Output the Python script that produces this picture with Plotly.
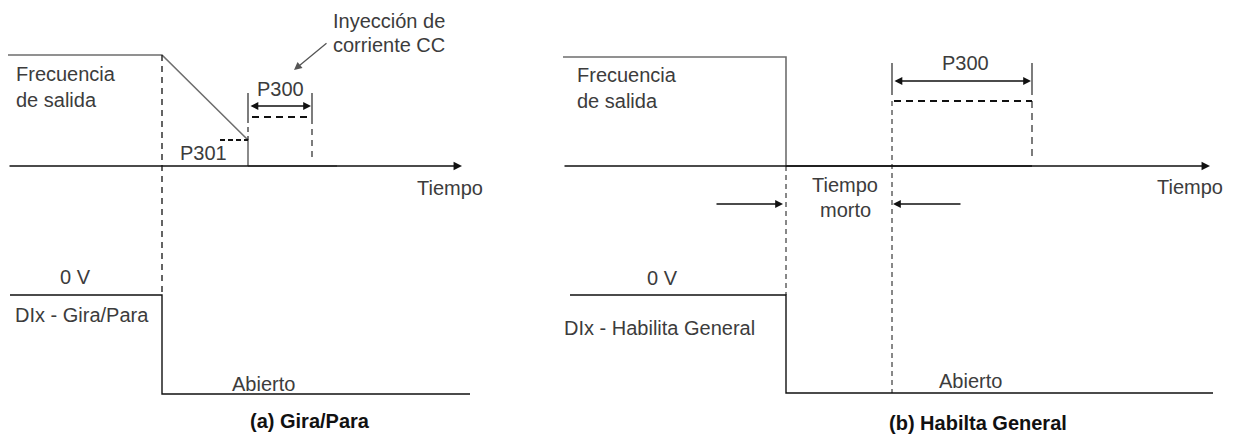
import plotly.graph_objects as go

# Diagram units: x = horizontal position (time), y = vertical position (top = 0)

# (a) Gira/Para
freq_a_x = [8, 162, 248, 248]
freq_a_y = [55, 55, 140, 166]
dc_a_x = [248, 337]
dc_a_y = [166, 166]
dix_a_x = [10, 162, 162, 470]
dix_a_y = [295, 295, 394, 394]
axis_a = [8, 462, 166]          # x start, x end, y
stop_a = [162, 55, 292]         # dashed command line: x, y top, y bottom
p301_x = [220, 248]
p301_y = 140
p300_a = [248, 312]             # DC braking start / end
p300_a_lvl = 117
p300_a_arrow_y = 106
p300_a_tick = [93, 118]

# (b) Habilita General
freq_b_x = [563, 786, 786]
freq_b_y = [57, 57, 166]
dc_b_x = [786, 1032]
dc_b_y = [166, 166]
dix_b_x = [570, 786, 786, 1213]
dix_b_y = [295, 295, 393, 393]
axis_b = [563, 1210, 166]
stop_b = [786, 166, 295]
p300_b = [892, 1032]
p300_b_lvl = 101
p300_b_arrow_y = 81
p300_b_tick = [63, 95]
dead_y = 204
dead_arrow_l = [715, 783]
dead_arrow_r = [962, 893]

TXT = "#3c3c3c"
FONT = "Liberation Sans"

fig = go.Figure()


def line(x, y, color="#111111", width=1.3, dash="solid"):
    fig.add_trace(go.Scatter(x=x, y=y, mode="lines", hoverinfo="skip",
                             line=dict(color=color, width=width, dash=dash),
                             showlegend=False))


def text(x, y, s, anchor="left", size=20, bold=False):
    fig.add_annotation(x=x, y=y, text=f"<b>{s}</b>" if bold else s,
                       showarrow=False, xanchor=anchor, yanchor="middle",
                       font=dict(family=FONT, size=size,
                                 color="#111111" if bold else TXT))


def arrow(x0, y0, x1, y1, color="#111111", width=1.3, side="end", size=1.3):
    fig.add_annotation(x=x1, y=y1, ax=x0, ay=y0, xref="x", yref="y",
                       axref="x", ayref="y", text="", showarrow=True,
                       arrowhead=2, arrowsize=size, arrowwidth=width,
                       arrowcolor=color, arrowside=side)


# ---------- panel (a) ----------
arrow(axis_a[0], axis_a[2], axis_a[1], axis_a[2])
line(freq_a_x, freq_a_y, color="#6e6e6e", width=1.6)
line(dc_a_x, dc_a_y, color="#777777", width=1.6)
line([stop_a[0], stop_a[0]], [stop_a[1], stop_a[2]], dash="6px,5px", width=1.3)
line(dix_a_x, dix_a_y, width=1.4)
line(p301_x, [p301_y, p301_y], dash="5px,3px", width=2)
for xt in p300_a:
    line([xt, xt], p300_a_tick, width=1.1)
line([p300_a[0], p300_a[0]], [p300_a_tick[1], p301_y], dash="5px,4px", width=1.1)
line([p300_a[1], p300_a[1]], [p300_a_tick[1], 162], dash="6px,5px", width=1.1)
line([p300_a[0] + 4, p300_a[1]], [p300_a_lvl, p300_a_lvl], dash="7px,5px", width=2)
arrow(p300_a[0] + 1, p300_a_arrow_y, p300_a[1] - 1, p300_a_arrow_y,
      side="end+start", width=1.3, size=1.2)
arrow(328, 42, 294, 70, color="#555555", width=1.3, size=1.2)

text(14, 74, "Frecuencia")
text(14, 100, "de salida")
text(415, 188, "Tiempo")
text(280, 89, "P300", anchor="center")
text(203, 153, "P301", anchor="center")
text(331, 21, "Inyección de")
text(331, 45, "corriente CC")
text(75, 277, "0 V", anchor="center")
text(13, 315, "DIx - Gira/Para")
text(263, 384, "Abierto", anchor="center")
text(310, 421, "(a) Gira/Para", anchor="center", bold=True)

# ---------- panel (b) ----------
arrow(axis_b[0], axis_b[2], axis_b[1], axis_b[2])
line(freq_b_x, freq_b_y, color="#6e6e6e", width=1.6)
line(dc_b_x, dc_b_y, color="#555555", width=1.8)
line([stop_b[0], stop_b[0]], [stop_b[1], stop_b[2]], dash="5px,4px", width=1)
line(dix_b_x, dix_b_y, width=1.4)
for xt in p300_b:
    line([xt, xt], p300_b_tick, width=1.1)
line([p300_b[0], p300_b[0]], [p300_b_lvl, dix_b_y[-1]], dash="5px,4px", width=1)
line([p300_b[1], p300_b[1]], [p300_b_lvl, 157], dash="7px,5px", width=1.1)
line([p300_b[0] + 2, p300_b[1]], [p300_b_lvl, p300_b_lvl], dash="7px,5px", width=2)
arrow(p300_b[0] + 1, p300_b_arrow_y, p300_b[1] - 1, p300_b_arrow_y,
      side="end+start", width=1.3, size=1.2)
arrow(dead_arrow_l[0], dead_y, dead_arrow_l[1], dead_y, size=1.2)
arrow(dead_arrow_r[0], dead_y, dead_arrow_r[1], dead_y, size=1.2)

text(575, 75, "Frecuencia")
text(575, 101, "de salida")
text(965, 63, "P300", anchor="center")
text(845, 185, "Tiempo", anchor="center")
text(845, 210, "morto", anchor="center")
text(1155, 187, "Tiempo")
text(662, 278, "0 V", anchor="center")
text(562, 328, "DIx - Habilita General")
text(970, 381, "Abierto", anchor="center")
text(978, 423, "(b) Habilta General", anchor="center", bold=True)

# the page body adds an 8px margin, so the figure is 8px smaller and its
# ranges start at 8 to keep the drawing in place
fig.update_layout(
    width=1227, height=427,
    margin=dict(l=0, r=0, t=0, b=0),
    plot_bgcolor="white", paper_bgcolor="white",
    xaxis=dict(range=[8, 1235], visible=False, fixedrange=True),
    yaxis=dict(range=[435, 8], visible=False, fixedrange=True),
)

fig.write_html("out.html", config={"displayModeBar": False})
